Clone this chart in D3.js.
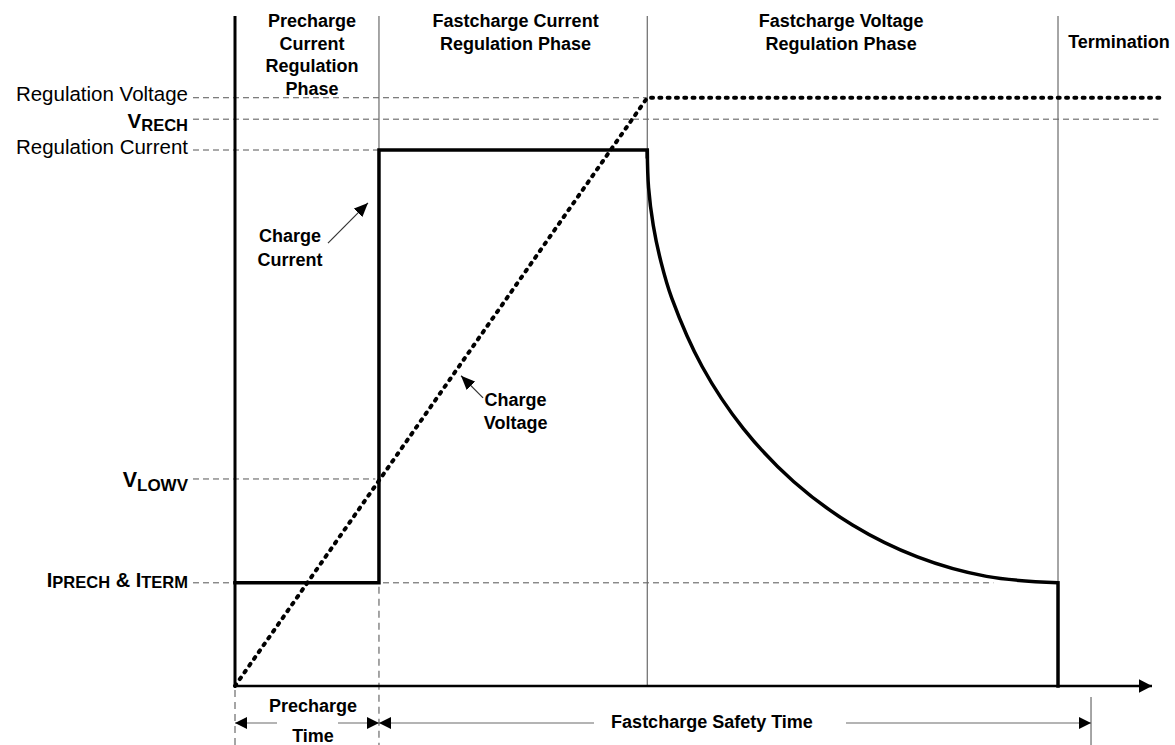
<!DOCTYPE html>
<html>
<head>
<meta charset="utf-8">
<script src="https://cdn.jsdelivr.net/npm/d3@7"></script>
<style>
    body { margin: 0; background: #fff; }
    svg { display: block; font-family: "Liberation Sans", Arial, sans-serif; }
    .bold { font-weight: bold; }
</style>
</head>
<body>
<div id="content"></div>
<script>
// ******* DATA *******
// time axis is 0..100 (arbitrary units), level axis is 0..100 (arbitrary units)

// phase boundaries along the time axis
const phaseEdges = [0, 15.7, 44.96, 89.75];
const phaseLabels = [
    ["Precharge", "Current", "Regulation", "Phase"],
    ["Fastcharge Current", "Regulation Phase"],
    ["Fastcharge Voltage", "Regulation Phase"],
    ["Termination"]
];
const phaseLabelAt = [8.4, 30.6, 66.1, 96.4];

// reference levels on the left
const levelNames = ["Regulation Voltage", "VRECH", "Regulation Current", "VLOWV", "IPRECH & ITERM"];
const levelValues = [87.8, 84.6, 80.0, 30.9, 15.4];
const levelEnds = [44.96, 100.7, 15.7, 15.3, 82.7];

// charge current: precharge step, fastcharge step
const currentTime = [0, 15.7, 15.7, 44.96, 44.96];
const currentLevel = [15.4, 15.4, 80.0, 80.0, 79.0];

// charge current taper in the voltage regulation phase
const taperTime = [44.96, 45.10, 45.61, 46.46, 47.63, 50.94, 55.42, 60.94, 67.34, 74.42, 81.96, 89.75];
const taperLevel = [80.0, 74.37, 68.78, 63.27, 57.90, 47.69, 38.46, 30.49, 24.03, 19.27, 16.36, 15.4];

// termination drop
const dropTime = [89.75, 89.75];
const dropLevel = [15.4, 0];

// charge voltage
const voltageTime = [0, 44.96, 101.2];
const voltageLevel = [0, 87.8, 87.8];

// timers under the axis
const timerNames = ["Precharge Time", "Fastcharge Safety Time"];
const timerStart = [0, 15.7];
const timerEnd = [15.7, 93.35];

// pointer annotations (tail and tip in data units)
const noteLines = [["Charge", "Current"], ["Charge", "Voltage"]];
const noteTail = [[10.14, 66.1], [27.05, 43.0]];
const noteTip = [[14.5, 72.1], [24.65, 46.3]];
const noteTextAt = [[6.0, 66.2], [30.6, 41.8]];


// ******* LAYOUT *******
const width = 1175;
const height = 745;
const FONT_BOLD = 18;
const FONT_REG = 20.5;
const THIN = "#6a6a6a";

const xScale = d3.scaleLinear().domain([0, 100]).range([235, 1152]);
const yScale = d3.scaleLinear().domain([0, 100]).range([686, 16]);

const svg = d3.select("#content").append("svg")
    .attr("width", width)
    .attr("height", height);

// arrow markers
const defs = svg.append("defs");
function addMarker(id, len, half) {
    defs.append("marker")
        .attr("id", id)
        .attr("markerUnits", "userSpaceOnUse")
        .attr("viewBox", `0 0 ${len} ${half * 2}`)
        .attr("refX", len)
        .attr("refY", half)
        .attr("markerWidth", len)
        .attr("markerHeight", half * 2)
        .attr("orient", "auto-start-reverse")
        .append("path")
        .attr("d", `M0,0L${len},${half}L0,${half * 2}Z`)
        .attr("fill", "#000");
}
addMarker("axis-head", 13, 6.8);
addMarker("time-head", 12, 6);
addMarker("note-head", 14, 6);

const lineGen = d3.line().x(d => xScale(d[0])).y(d => yScale(d[1]));
const curveGen = d3.line().x(d => xScale(d[0])).y(d => yScale(d[1])).curve(d3.curveCatmullRom.alpha(0.5));
const zip = (a, b) => a.map((v, i) => [v, b[i]]);

// ******* REFERENCE LINES *******
const labelX = xScale(0) - 47;
const guides = svg.append("g").attr("id", "guides");

levelValues.forEach((v, i) => {
    guides.append("line")
        .attr("x1", labelX + 5).attr("x2", xScale(levelEnds[i]))
        .attr("y1", yScale(v)).attr("y2", yScale(v))
        .attr("stroke", "#555").attr("stroke-width", 1)
        .attr("stroke-dasharray", "6,4");
});

// phase boundaries
const topY = yScale(100);
guides.append("line")
    .attr("x1", xScale(phaseEdges[1])).attr("x2", xScale(phaseEdges[1]))
    .attr("y1", topY).attr("y2", yScale(80))
    .attr("stroke", THIN).attr("stroke-width", 1.2);
[phaseEdges[2], phaseEdges[3]].forEach(t => {
    guides.append("line")
        .attr("x1", xScale(t)).attr("x2", xScale(t))
        .attr("y1", topY).attr("y2", yScale(0))
        .attr("stroke", THIN).attr("stroke-width", 1.2);
});

// dashed drop lines to the timers
guides.append("line")
    .attr("x1", xScale(0)).attr("x2", xScale(0))
    .attr("y1", yScale(0) + 4).attr("y2", height)
    .attr("stroke", THIN).attr("stroke-width", 1.2).attr("stroke-dasharray", "7,5");
guides.append("line")
    .attr("x1", xScale(phaseEdges[1])).attr("x2", xScale(phaseEdges[1]))
    .attr("y1", yScale(15.4) + 4).attr("y2", height)
    .attr("stroke", THIN).attr("stroke-width", 1.2).attr("stroke-dasharray", "7,5");
guides.append("line")
    .attr("x1", xScale(timerEnd[1])).attr("x2", xScale(timerEnd[1]))
    .attr("y1", yScale(0) + 11).attr("y2", height)
    .attr("stroke", THIN).attr("stroke-width", 1.2);

// ******* AXES *******
const axes = svg.append("g").attr("id", "axes");
axes.append("line")
    .attr("x1", xScale(0)).attr("x2", xScale(0))
    .attr("y1", topY).attr("y2", yScale(0))
    .attr("stroke", "#000").attr("stroke-width", 3);
axes.append("line")
    .attr("x1", xScale(0)).attr("x2", xScale(100))
    .attr("y1", yScale(0)).attr("y2", yScale(0))
    .attr("stroke", "#000").attr("stroke-width", 2.6)
    .attr("marker-end", "url(#axis-head)");

// ******* CURVES *******
const curves = svg.append("g").attr("id", "curves");
curves.append("path")
    .attr("d", lineGen(zip(currentTime, currentLevel)))
    .attr("fill", "none").attr("stroke", "#000").attr("stroke-width", 3.5)
    .attr("stroke-linejoin", "miter").attr("stroke-linecap", "square");
curves.append("path")
    .attr("d", curveGen(zip(taperTime, taperLevel)))
    .attr("fill", "none").attr("stroke", "#000").attr("stroke-width", 3.5);
curves.append("path")
    .attr("d", lineGen(zip(dropTime, dropLevel)))
    .attr("fill", "none").attr("stroke", "#000").attr("stroke-width", 3.5)
    .attr("stroke-linecap", "square");
curves.append("path")
    .attr("d", lineGen(zip(voltageTime, voltageLevel)))
    .attr("fill", "none").attr("stroke", "#000").attr("stroke-width", 4)
    .attr("stroke-linecap", "round")
    .attr("stroke-dasharray", "2,6.3");

// ******* TEXT *******
function multiText(g, x, y, lines, lh, anchor) {
    const t = g.append("text")
        .attr("class", "bold")
        .attr("font-size", FONT_BOLD)
        .attr("text-anchor", anchor || "middle");
    lines.forEach((s, i) => {
        t.append("tspan").attr("x", x).attr("y", y + i * lh).text(s);
    });
    return t;
}

const texts = svg.append("g").attr("id", "texts");

// phase titles
phaseLabels.forEach((lines, i) => {
    const first = lines.length === 1 ? 48 : 27;
    multiText(texts, xScale(phaseLabelAt[i]), first, lines, 22.7);
});

// level labels
texts.append("text").attr("x", labelX).attr("y", yScale(levelValues[0]) + 3.5)
    .attr("text-anchor", "end").attr("font-size", FONT_REG).text(levelNames[0]);
texts.append("text").attr("x", labelX).attr("y", yScale(levelValues[2]) + 4)
    .attr("text-anchor", "end").attr("font-size", FONT_REG).text(levelNames[2]);

function subLabel(value, parts, dyBase) {
    const t = texts.append("text")
        .attr("class", "bold")
        .attr("x", labelX)
        .attr("y", yScale(value) + dyBase)
        .attr("text-anchor", "end");
    parts.forEach(p => {
        t.append("tspan").attr("font-size", p[1]).attr("dy", p[2]).text(p[0]);
    });
}
subLabel(levelValues[1], [["V", 20.5, 0], ["RECH", 16.5, 3]], 8.5);
subLabel(levelValues[3], [["V", 21.5, 0], ["LOWV", 17, 4]], 8.5);
subLabel(levelValues[4], [["I", 20, 0], ["PRECH", 16.5, 1], [" & ", 20, -1], ["I", 20, 0], ["TERM", 16.5, 1]], 4);

// pointer notes
noteLines.forEach((lines, i) => {
    multiText(texts, xScale(noteTextAt[i][0]), yScale(noteTextAt[i][1]), lines, 23.3);
    texts.append("line")
        .attr("x1", xScale(noteTail[i][0])).attr("y1", yScale(noteTail[i][1]))
        .attr("x2", xScale(noteTip[i][0])).attr("y2", yScale(noteTip[i][1]))
        .attr("stroke", "#333").attr("stroke-width", 1.2)
        .attr("marker-end", "url(#note-head)");
});

// ******* TIMERS *******
const timers = svg.append("g").attr("id", "timers");
const timerY = 723;

// precharge time: text above and below the arrow
const p0 = xScale(timerStart[0]), p1 = xScale(timerEnd[0]);
timers.append("line").attr("x1", p0).attr("x2", p0 + 42).attr("y1", timerY).attr("y2", timerY)
    .attr("stroke", THIN).attr("stroke-width", 1.2).attr("marker-start", "url(#time-head)");
timers.append("line").attr("x1", p1 - 41).attr("x2", p1).attr("y1", timerY).attr("y2", timerY)
    .attr("stroke", THIN).attr("stroke-width", 1.2).attr("marker-end", "url(#time-head)");
multiText(timers, (p0 + p1) / 2 + 6, 712, timerNames[0].split(" "), 30);

// fastcharge safety time
const s0 = xScale(timerStart[1]), s1 = xScale(timerEnd[1]);
const sMid = 712;
timers.append("line").attr("x1", s0).attr("x2", sMid - 118).attr("y1", timerY).attr("y2", timerY)
    .attr("stroke", THIN).attr("stroke-width", 1.2).attr("marker-start", "url(#time-head)");
timers.append("line").attr("x1", sMid + 134).attr("x2", s1).attr("y1", timerY).attr("y2", timerY)
    .attr("stroke", THIN).attr("stroke-width", 1.2).attr("marker-end", "url(#time-head)");
multiText(timers, sMid, 728, [timerNames[1]], 0);
</script>
</body>
</html>
